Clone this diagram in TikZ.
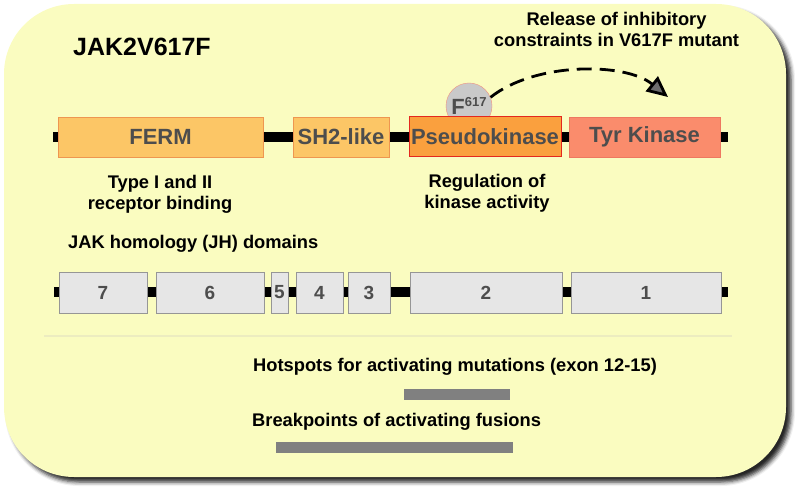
\documentclass[tikz,border=0pt]{standalone}
\usepackage{fontspec}
\setmainfont{Liberation Sans}
\usetikzlibrary{arrows.meta,shadows.blur,positioning}
\definecolor{paleyellow}{RGB}{250,252,192}
\definecolor{labgray}{RGB}{77,77,77}
\definecolor{fermfill}{RGB}{252,198,102}
\definecolor{fermline}{RGB}{238,150,80}
\definecolor{pkfill}{RGB}{250,160,62}
\definecolor{pkline}{RGB}{228,40,30}
\definecolor{tkfill}{RGB}{250,140,108}
\definecolor{tkline}{RGB}{238,120,96}
\definecolor{jhfill}{RGB}{230,230,230}
\definecolor{jhline}{RGB}{150,150,150}
\definecolor{barcol}{RGB}{128,128,128}
\definecolor{sepcol}{RGB}{236,236,192}

\begin{document}
\begin{tikzpicture}
[x=1pt,y=-1pt,
every node/.style={inner sep=0pt,font=\bfseries},
jak/.style={rectangle,minimum height=40pt,text=labgray,font=\fontsize{22}{25}\selectfont\bfseries},
jh/.style={rectangle,minimum height=41pt,draw=jhline,fill=jhfill,line width=0.8pt,text=labgray,font=\fontsize{19}{22}\selectfont\bfseries},
note/.style={align=center,font=\fontsize{18.3}{21}\selectfont\bfseries}]
\useasboundingbox (0,0) rectangle (800,494);
\fill [paleyellow,rounded corners=70pt,
blur shadow={shadow xshift=5pt,shadow yshift=-5pt,shadow blur radius=4pt,shadow opacity=85}]
(4,4) rectangle (786,477);
\draw [sepcol,line width=1.5pt] (44,336) -- (732,336);
% backbone lines
\coordinate (TL) at (53,137);
\coordinate (TR) at (728,137);
\coordinate (BL) at (54,292);
\coordinate (BR) at (728,292);
\draw [line width=9.5pt] (TL) -- (TR);
\draw [line width=10pt] (BL) -- (BR);
\node (JAK) [anchor=west,font=\fontsize{25}{28}\selectfont\bfseries] at (73,47) {JAK2V617F};
\node (F) [circle,minimum size=46pt,fill=black!21,draw=tkline!80,text=labgray,
font=\fontsize{22}{25}\selectfont\bfseries] at (469,106) {\raisebox{-2pt}{F}\raisebox{6pt}{\fontsize{13}{14}\selectfont 617}};
\node (FERM) [jak,minimum width=205pt,fill=fermfill,draw=fermline] at (160.5,137) {FERM};
\node (SH) [jak,minimum width=96pt,fill=fermfill,draw=fermline] at (341,137) {SH2-like};
\node (PK) [jak,minimum width=152pt,fill=pkfill,draw=pkline,line width=1pt] at (485,137) {Pseudokinase};
\node (TK) [jak,minimum width=151pt,fill=tkfill,draw=tkline] at (644.5,137) {Tyr Kinase};
\coordinate (TIP) at (668,97);
\draw [line width=2.8pt,dash pattern=on 15pt off 8pt,-{Triangle[length=21pt,width=19pt]}]
(F.22) .. controls (535,62) and (625,62) .. (TIP);
\node (REL) [note] at (616.5,29) {Release of inhibitory\\constraints in V617F mutant};
\node (TYPE) [note] at (160,194.5) {Type I and II\\receptor binding};
\node (REG) [note] at (487,193) {Regulation of\\kinase activity};
\node (JHT) [note,anchor=west] at (68,244) {JAK homology (JH) domains};
% JH domains
\node (J7) [jh,minimum width=88pt] at (103,292.5) {7};
\node (J6) [jh,minimum width=108pt] at (210,292.5) {6};
\node (J5) [jh,minimum width=17pt] at (279.5,292.5) {5};
\node (J4) [jh,minimum width=47pt] at (319.5,292.5) {4};
\node (J3) [jh,minimum width=42pt] at (369,292.5) {3};
\node (J2) [jh,minimum width=152pt] at (486,292.5) {2};
\node (J1) [jh,minimum width=150pt] at (646,292.5) {1};
\node (HOT) [note,anchor=west] at (253,367) {Hotspots for activating mutations (exon 12-15)};
\node (BRK) [note,anchor=west] at (252,422) {Breakpoints of activating fusions};
\fill [barcol] (404,389) rectangle (510,400);
\fill [barcol] (276,442) rectangle (513,453);
\end{tikzpicture}
\end{document}
